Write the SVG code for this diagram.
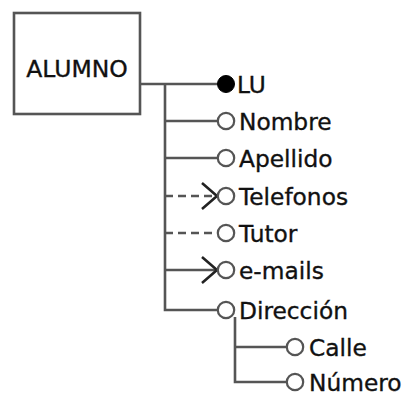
<svg xmlns="http://www.w3.org/2000/svg" xmlns:xlink="http://www.w3.org/1999/xlink" width="420" height="410" viewBox="0 0 420 410">
  <style>
    .ln { stroke: #555; stroke-width: 2.6; fill: none; }
    .dash { stroke: #555; stroke-width: 2.6; fill: none; stroke-dasharray: 8 5; }
    .crow { stroke: #222; stroke-width: 2.6; fill: none; }
    .att { stroke: #555; stroke-width: 2.2; fill: #fff; }
    .key { stroke: #000; stroke-width: 1; fill: #000; }
    .box { stroke: #555; stroke-width: 2.6; fill: #fff; }
    .lbl { font-family: "DejaVu Sans", Verdana, sans-serif; font-size: 23.3px; fill: #111; stroke: #111; stroke-width: 0.35; }
    .ent { font-family: "DejaVu Sans", Verdana, sans-serif; font-size: 23.5px; fill: #111; stroke: #111; stroke-width: 0.35; text-anchor: middle; }
  </style>
  <defs>
    <path id="crowfoot" class="crow" d="M-15,-13 L0,0 L-15,13"/>
  </defs>
  <rect width="420" height="410" fill="#fff"/>

  <g id="connectors">
    <path class="ln" d="M140,84 H218"/>
    <path class="ln" d="M165,84 V310 H217"/>
    <path class="ln" d="M165,121 H217"/>
    <path class="ln" d="M165,158 H217"/>
    <path class="dash" d="M165,196 H217"/>
    <use href="#crowfoot" x="217" y="196"/>
    <path class="dash" d="M165,233 H217"/>
    <path class="ln" d="M165,270 H217"/>
    <use href="#crowfoot" x="217" y="270"/>
    <path class="ln" d="M235,317 V382 H286"/>
    <path class="ln" d="M235,347 H286"/>
  </g>

  <g id="alumno">
    <rect class="box" x="14" y="13" width="126" height="101"/>
    <text class="ent" x="77" y="77">ALUMNO</text>
  </g>
  <g id="lu">
    <circle class="key" cx="226" cy="84" r="8.5"/>
    <text class="lbl" x="237" y="93">LU</text>
  </g>
  <g id="nombre">
    <circle class="att" cx="226" cy="121" r="8.2"/>
    <text class="lbl" x="239" y="130">Nombre</text>
  </g>
  <g id="apellido">
    <circle class="att" cx="226" cy="158" r="8.2"/>
    <text class="lbl" x="239" y="167">Apellido</text>
  </g>
  <g id="telefonos">
    <circle class="att" cx="226" cy="196" r="8.2"/>
    <text class="lbl" x="239" y="205">Telefonos</text>
  </g>
  <g id="tutor">
    <circle class="att" cx="226" cy="233" r="8.2"/>
    <text class="lbl" x="239" y="242">Tutor</text>
  </g>
  <g id="emails">
    <circle class="att" cx="226" cy="270" r="8.2"/>
    <text class="lbl" x="239" y="279">e-mails</text>
  </g>
  <g id="direccion">
    <circle class="att" cx="226" cy="310" r="8.2"/>
    <text class="lbl" x="239" y="319">Dirección</text>
  </g>
  <g id="calle">
    <circle class="att" cx="295" cy="347" r="8.2"/>
    <text class="lbl" x="309" y="356">Calle</text>
  </g>
  <g id="numero">
    <circle class="att" cx="295" cy="382" r="8.2"/>
    <text class="lbl" x="309" y="391">Número</text>
  </g>
</svg>
